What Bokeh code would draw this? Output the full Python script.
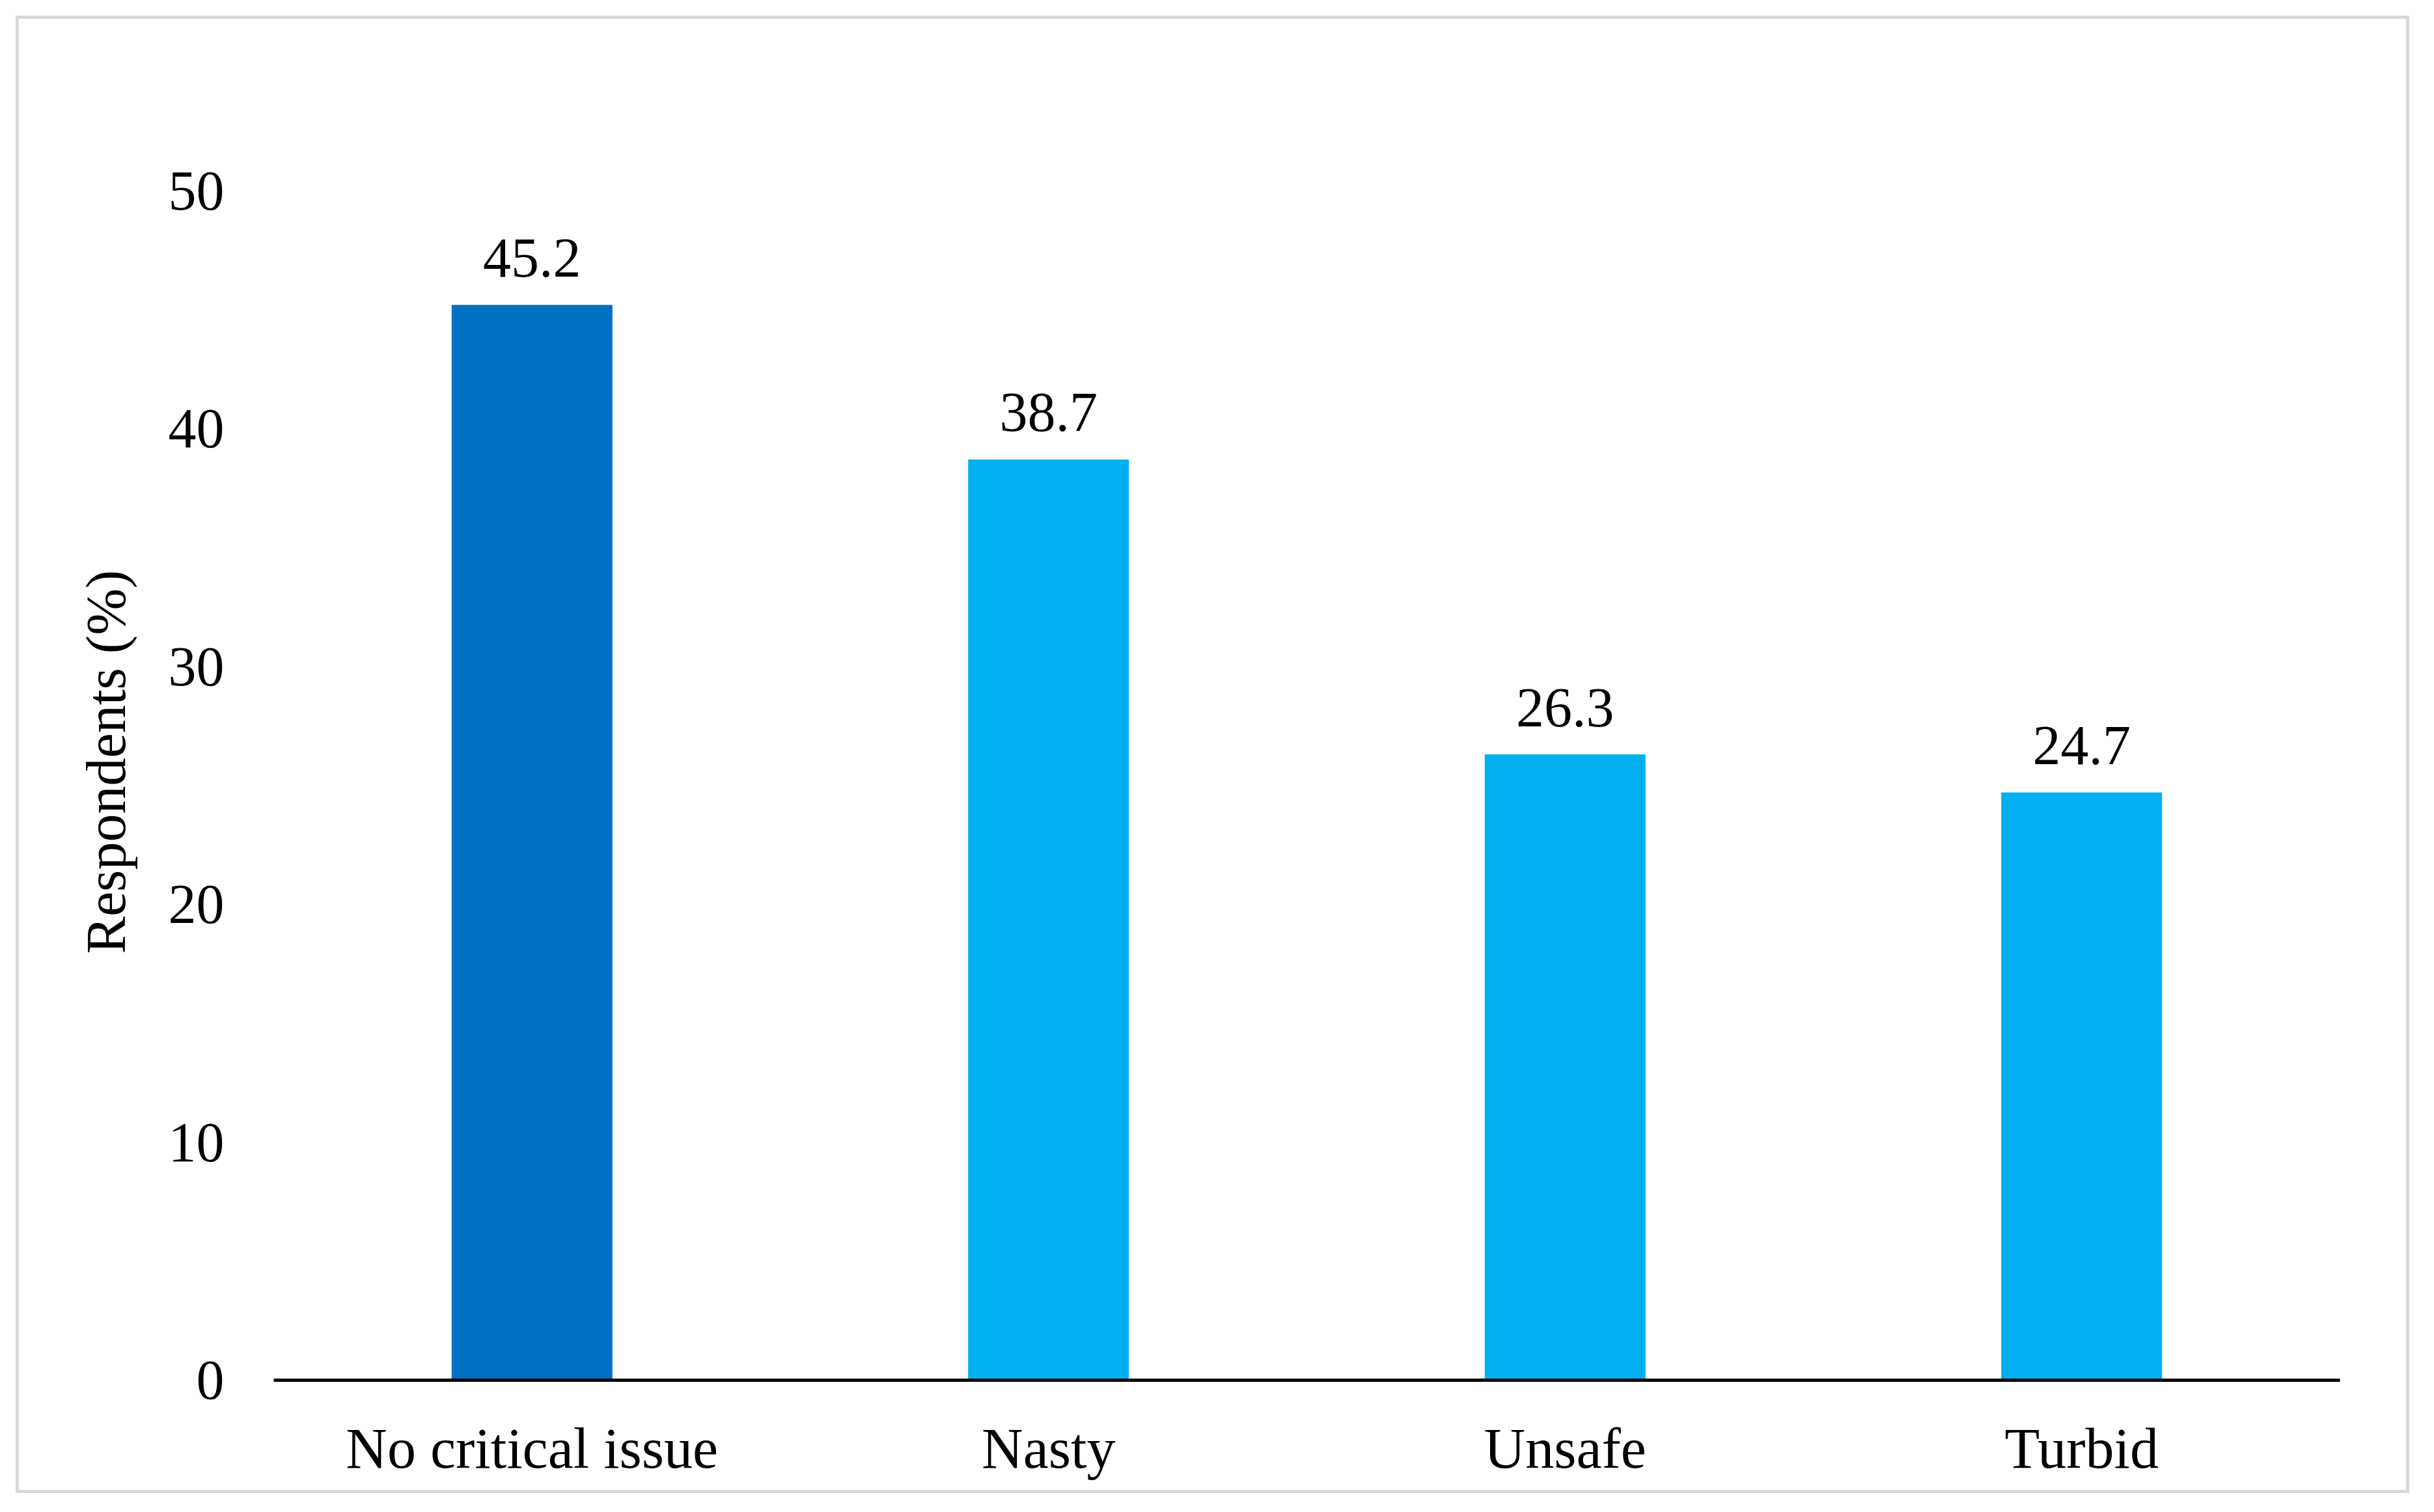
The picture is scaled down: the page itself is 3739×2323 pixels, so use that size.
from bokeh.plotting import figure
from bokeh.models import ColumnDataSource
from bokeh.core.properties import value
from bokeh.embed import file_html
from bokeh.resources import INLINE

categories = ["No critical issue", "Nasty", "Unsafe", "Turbid"]
values = [45.2, 38.7, 26.3, 24.7]
colors = ["#0070C0", "#00B0F0", "#00B0F0", "#00B0F0"]
labels = ["45.2", "38.7", "26.3", "24.7"]
y_ticks = [0, 10, 20, 30, 40, 50]

FONT = "Liberation Serif"

src = ColumnDataSource(dict(cat=categories, val=values, col=colors, lab=labels))

p = figure(x_range=categories, y_range=(0, 52), width=3677, height=2270,
           output_backend="svg", toolbar_location=None,
           min_border_left=391, min_border_right=112,
           min_border_top=191, min_border_bottom=179)
p.margin = (24, 0, 0, 24)
p.styles = {"border": "5px solid #d9d9d9"}
p.outline_line_color = None
p.background_fill_color = "white"
p.border_fill_color = "white"
p.xgrid.grid_line_color = None
p.ygrid.grid_line_color = None

p.vbar(x="cat", top="val", width=0.31, color="col", source=src)
p.text(x="cat", y="val", text="lab", source=src, text_align="center",
       text_baseline="bottom", y_offset=-44, text_font=value(FONT),
       text_font_size="86px", text_color="black")

p.yaxis.ticker = y_ticks
p.yaxis.axis_line_color = None
p.yaxis.major_tick_line_color = None
p.yaxis.minor_tick_line_color = None
p.yaxis.major_label_text_font = FONT
p.yaxis.major_label_text_font_size = "86px"
p.yaxis.major_label_text_color = "black"
p.yaxis.major_label_standoff = 70
p.yaxis.axis_label = "Respondents (%)"
p.yaxis.axis_label_text_font = FONT
p.yaxis.axis_label_text_font_size = "86px"
p.yaxis.axis_label_text_font_style = "normal"
p.yaxis.axis_label_text_color = "black"
p.yaxis.axis_label_standoff = 45

p.xaxis.axis_line_color = "black"
p.xaxis.axis_line_width = 5
p.xaxis.major_tick_line_color = None
p.xaxis.minor_tick_line_color = None
p.xaxis.major_label_text_font = FONT
p.xaxis.major_label_text_font_size = "88px"
p.xaxis.major_label_text_color = "black"
p.xaxis.major_label_standoff = 50

open("out.html", "w").write(file_html(p, INLINE))
